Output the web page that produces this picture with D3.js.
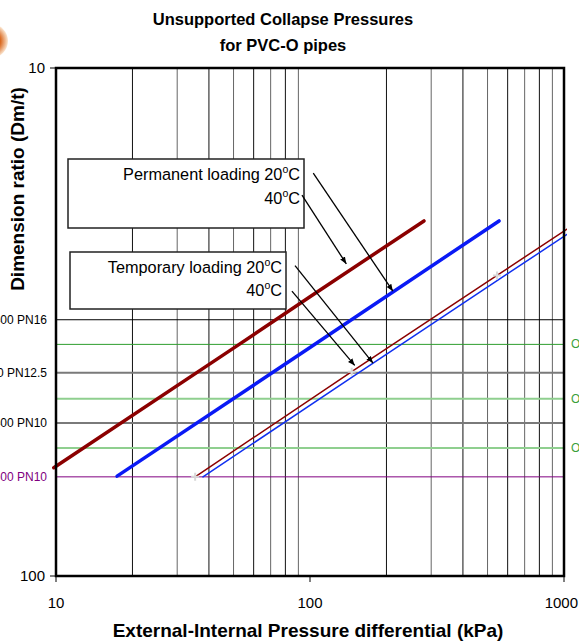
<!DOCTYPE html>
<html>
<head>
<meta charset="utf-8">
<script src="https://cdn.jsdelivr.net/npm/d3@7"></script>
<style>
  html, body { margin: 0; padding: 0; background: #fff; overflow: hidden; }
  svg { display: block; font-family: "Liberation Sans", Arial, sans-serif; }
</style>
</head>
<body>
<div id="chart"></div>
<script>
// Collapse pressure lines (pressure kPa vs dimension ratio)
var perm20P  = [9.8, 50, 100, 281];
var perm20DR = [61.2, 35.6, 28.2, 20];
var perm40P  = [17.4, 100, 555];
var perm40DR = [63.6, 35.5, 20];
var temp40P  = [35.3, 146, 545, 1148];
var temp40DR = [63.8, 39.6, 25.6, 20];
var temp20P  = [37.9, 150, 600, 1200];
var temp20DR = [63.8, 40.3, 25.4, 20.2];
// data points shown with markers on the temporary 40C line
var markerP  = [35.3, 146, 545];
var markerDR = [63.8, 39.6, 25.6];

// horizontal reference lines
var refDR     = [31.3, 35, 39.8, 44.8, 50, 56, 63.8];
var refKind   = ["pn16", "green", "pn", "lgreen", "pn", "lgreen", "purple"];
var refLeft   = ["PVC-O 400 PN16", "", "PVC-O 450 PN12.5", "", "PVC-O 400 PN10", "", "PVC-O 500 PN10"];
var refRight  = ["", "OPVC PN20", "", "OPVC PN16", "", "OPVC PN12.5", ""];

// arrows: [tail P, tail DR, head P, head DR]
var arrowTailP  = [103, 93, 87.3, 84.9];
var arrowTailDR = [16.1, 17.8, 24.5, 27.5];
var arrowHeadP  = [212, 139, 177, 150];
var arrowHeadDR = [27.5, 24.3, 38.1, 38.5];

var xTicks = [10, 100, 1000];
var yTicks = [10, 100];

var W = 579, H = 642;
var svg = d3.select("#chart").append("svg")
    .attr("width", W).attr("height", H);

var x = d3.scaleLog().domain([10, 1000]).range([56, 564]);
var y = d3.scaleLog().domain([10, 100]).range([68, 576]);

// logo fragment at top-left
var grad = svg.append("defs").append("radialGradient").attr("id", "logo");
grad.append("stop").attr("offset", "0%").attr("stop-color", "#7a2a08");
grad.append("stop").attr("offset", "55%").attr("stop-color", "#d9661c");
grad.append("stop").attr("offset", "100%").attr("stop-color", "#fbe7d2");
svg.append("circle").attr("cx", -9).attr("cy", 41).attr("r", 17).attr("fill", "url(#logo)");

svg.append("defs").append("clipPath").attr("id", "plotclip")
  .append("rect").attr("x", 50).attr("y", 60).attr("width", 517).attr("height", 520);

// vertical grid lines
var gridVals = x.ticks().filter(function(d) { return xTicks.indexOf(d) < 0; });
svg.append("g").selectAll("line").data(gridVals).enter().append("line")
    .attr("x1", function(d) { return x(d); }).attr("x2", function(d) { return x(d); })
    .attr("y1", 68).attr("y2", 576)
    .attr("stroke", function(d, i) { return i % 2 ? "#666" : "#111"; })
    .attr("stroke-width", 1);

// reference lines
function refStroke(k) {
  return {pn16: "#000", green: "#2e9e2e", pn: "#7a7a7a", lgreen: "#8fcf8f", purple: "#800080"}[k];
}
function refWidth(k) {
  return {pn16: 1, green: 1, pn: 2, lgreen: 2, purple: 1}[k];
}
svg.append("g").selectAll("line").data(refDR).enter().append("line")
    .attr("x1", 56).attr("x2", 564)
    .attr("y1", function(d) { return y(d); }).attr("y2", function(d) { return y(d); })
    .attr("stroke", function(d, i) { return refStroke(refKind[i]); })
    .attr("stroke-width", function(d, i) { return refWidth(refKind[i]); });

svg.append("g").selectAll("text").data(refDR).enter().append("text")
    .attr("x", 47).attr("y", function(d) { return y(d) + 4; })
    .attr("text-anchor", "end")
    .style("font-size", "12px")
    .attr("fill", function(d, i) { return refKind[i] === "purple" ? "#800080" : "#000"; })
    .text(function(d, i) { return refLeft[i]; });

svg.append("g").selectAll("text").data(refDR).enter().append("text")
    .attr("x", 571).attr("y", function(d) { return y(d) + 4; })
    .style("font-size", "12px")
    .attr("fill", "#3aa03a")
    .text(function(d, i) { return refRight[i]; });

// collapse lines
var line = d3.line().x(function(d) { return x(d[0]); }).y(function(d) { return y(d[1]); });
var series = [
  {p: perm20P, dr: perm20DR, color: "#8b0000", w: 3.5},
  {p: perm40P, dr: perm40DR, color: "#0a1af5", w: 3.5},
  {p: temp40P, dr: temp40DR, color: "#8b0000", w: 1.5},
  {p: temp20P, dr: temp20DR, color: "#1030f0", w: 1.5}
];
var lg = svg.append("g").attr("clip-path", "url(#plotclip)");
lg.selectAll("path").data(series).enter().append("path")
    .attr("d", function(s) { return line(s.p.map(function(v, i) { return [v, s.dr[i]]; })); })
    .attr("fill", "none")
    .attr("stroke", function(s) { return s.color; })
    .attr("stroke-width", function(s) { return s.w; })
    .attr("stroke-linecap", "round");

// point markers
var mk = svg.append("g");
markerP.forEach(function(p, i) {
  var cx = x(p), cy = y(markerDR[i]);
  mk.append("path")
    .attr("d", "M" + (cx - 4) + "," + cy + "H" + (cx + 4) + "M" + cx + "," + (cy - 4) + "V" + (cy + 4))
    .attr("stroke", "#d8d8d8").attr("stroke-width", 2);
});

// frame
svg.append("rect").attr("x", 56).attr("y", 68).attr("width", 508).attr("height", 508)
    .attr("fill", "none").attr("stroke", "#000").attr("stroke-width", 2.5);

// ticks & tick labels
svg.append("g").selectAll("line").data(yTicks).enter().append("line")
    .attr("x1", 50).attr("x2", 56)
    .attr("y1", function(d) { return y(d); }).attr("y2", function(d) { return y(d); })
    .attr("stroke", "#000").attr("stroke-width", 1);
svg.append("g").selectAll("text").data(yTicks).enter().append("text")
    .attr("x", 45).attr("y", function(d) { return y(d) + 5; })
    .attr("text-anchor", "end").style("font-size", "15px")
    .text(function(d) { return d; });

svg.append("g").selectAll("line").data(xTicks).enter().append("line")
    .attr("x1", function(d) { return x(d); }).attr("x2", function(d) { return x(d); })
    .attr("y1", 576).attr("y2", 582)
    .attr("stroke", "#000").attr("stroke-width", 1);
svg.append("g").selectAll("text").data(xTicks).enter().append("text")
    .attr("x", function(d, i) { return i === xTicks.length - 1 ? 578 : x(d); })
    .attr("y", 608)
    .attr("text-anchor", function(d, i) { return i === xTicks.length - 1 ? "end" : "middle"; })
    .style("font-size", "15px")
    .text(function(d) { return d; });

// titles
svg.append("text").attr("x", 283).attr("y", 25).attr("text-anchor", "middle")
    .style("font-size", "16.5px").style("font-weight", "bold")
    .text("Unsupported Collapse Pressures");
svg.append("text").attr("x", 283).attr("y", 51).attr("text-anchor", "middle")
    .style("font-size", "16.5px").style("font-weight", "bold")
    .text("for PVC-O pipes");
svg.append("text").attr("x", 308).attr("y", 637).attr("text-anchor", "middle")
    .style("font-size", "19px").style("font-weight", "bold")
    .text("External-Internal Pressure differential (kPa)");
svg.append("text").attr("transform", "translate(24,189) rotate(-90)")
    .attr("text-anchor", "middle")
    .style("font-size", "19px").style("font-weight", "bold")
    .text("Dimension ratio (Dm/t)");

// annotation boxes
function box(x0, y0, w, h, lines) {
  var g = svg.append("g");
  g.append("rect").attr("x", x0).attr("y", y0).attr("width", w).attr("height", h)
    .attr("fill", "#fff").attr("stroke", "#222").attr("stroke-width", 1.5);
  lines.forEach(function(l) {
    var t = g.append("text").attr("x", x0 + w - 4).attr("y", l.y)
      .attr("text-anchor", "end").style("font-size", "16.3px");
    t.append("tspan").text(l.pre);
    t.append("tspan").attr("dy", -7).style("font-size", "10.5px").text("o");
    t.append("tspan").attr("dy", 7).text("C");
  });
}
box(68, 159, 236, 69, [{pre: "Permanent loading 20", y: 180}, {pre: "40", y: 204}]);
box(70, 252, 216, 57, [{pre: "Temporary loading 20", y: 273}, {pre: "40", y: 296}]);

// arrows
var defs = svg.append("defs");
defs.append("marker").attr("id", "ah").attr("viewBox", "0 0 10 10")
    .attr("refX", 10).attr("refY", 5).attr("markerWidth", 7).attr("markerHeight", 7)
    .attr("orient", "auto").attr("markerUnits", "userSpaceOnUse")
  .append("path").attr("d", "M0,1 L10,5 L0,9 z").attr("fill", "#000");
svg.append("g").selectAll("line").data(arrowTailP).enter().append("line")
    .attr("x1", function(d) { return x(d); })
    .attr("y1", function(d, i) { return y(arrowTailDR[i]); })
    .attr("x2", function(d, i) { return x(arrowHeadP[i]); })
    .attr("y2", function(d, i) { return y(arrowHeadDR[i]); })
    .attr("stroke", "#000").attr("stroke-width", 1.3)
    .attr("marker-end", "url(#ah)");
</script>
</body>
</html>
